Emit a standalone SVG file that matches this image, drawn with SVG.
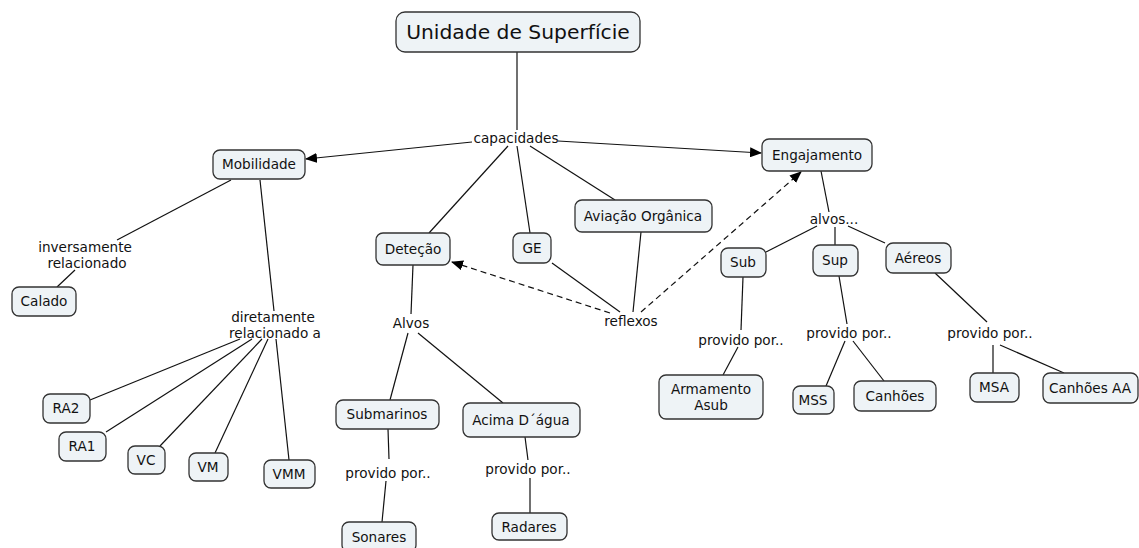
<svg xmlns="http://www.w3.org/2000/svg" width="1139" height="548" viewBox="0 0 1139 548">
<style>
.n rect{fill:#eef3f6;stroke:#333;stroke-width:1.3}
.n text,.l text{font-family:"DejaVu Sans",Verdana,sans-serif;font-size:13.6px;fill:#111;text-anchor:middle}
.c line{stroke:#111;stroke-width:1.2;fill:none}
.c .d{stroke-dasharray:6 4}
</style>
<defs>
<marker id="ah" viewBox="0 0 12 10" refX="11" refY="5" markerWidth="12" markerHeight="10" markerUnits="userSpaceOnUse" orient="auto">
<path d="M0,0 L12,5 L0,10 z" fill="#000"/>
</marker>
</defs>
<rect width="1139" height="548" fill="#fff"/>
<g class="c">
<line x1="517" y1="52" x2="517" y2="130"/>
<line x1="472" y1="142" x2="306" y2="159" marker-end="url(#ah)"/>
<line x1="558" y1="141" x2="761" y2="153" marker-end="url(#ah)"/>
<line x1="508" y1="146" x2="429" y2="233"/>
<line x1="517" y1="146" x2="530" y2="233"/>
<line x1="530" y1="146" x2="615" y2="200"/>
<line x1="552" y1="263" x2="620" y2="312"/>
<line x1="641" y1="232" x2="633" y2="312"/>
<line class="d" x1="610" y1="313" x2="452" y2="262" marker-end="url(#ah)"/>
<line class="d" x1="641" y1="312" x2="801" y2="172" marker-end="url(#ah)"/>
<line x1="821" y1="171" x2="829" y2="212"/>
<line x1="817" y1="226" x2="766" y2="252"/>
<line x1="835" y1="227" x2="835" y2="245"/>
<line x1="848" y1="226" x2="885" y2="243"/>
<line x1="743" y1="277" x2="741" y2="330"/>
<line x1="738" y1="347" x2="723" y2="375"/>
<line x1="839" y1="276" x2="847" y2="324"/>
<line x1="845" y1="341" x2="826" y2="386"/>
<line x1="853" y1="341" x2="884" y2="381"/>
<line x1="935" y1="273" x2="987" y2="322"/>
<line x1="993" y1="345" x2="993" y2="373"/>
<line x1="1000" y1="345" x2="1064" y2="373"/>
<line x1="231" y1="180" x2="117" y2="240"/>
<line x1="75" y1="270" x2="57" y2="287"/>
<line x1="260" y1="180" x2="274" y2="311"/>
<line x1="240" y1="339" x2="90" y2="400"/>
<line x1="252" y1="339" x2="106" y2="432"/>
<line x1="262" y1="339" x2="160" y2="446"/>
<line x1="268" y1="339" x2="215" y2="453"/>
<line x1="276" y1="339" x2="289" y2="460"/>
<line x1="413" y1="265" x2="411" y2="314"/>
<line x1="408" y1="333" x2="390" y2="400"/>
<line x1="418" y1="333" x2="503" y2="403"/>
<line x1="388" y1="429" x2="389" y2="459"/>
<line x1="386" y1="481" x2="382" y2="522"/>
<line x1="525" y1="437" x2="528" y2="460"/>
<line x1="530" y1="478" x2="530" y2="513"/>
</g>
<g class="l">
<text x="516" y="143">capacidades</text>
<text x="631" y="326">reflexos</text>
<text x="834" y="224">alvos...</text>
<text x="741" y="345">provido por..</text>
<text x="849" y="338">provido por..</text>
<text x="990" y="338">provido por..</text>
<text x="85" y="252">inversamente</text>
<text x="87" y="268">relacionado</text>
<text x="273" y="322">diretamente</text>
<text x="275" y="338">relacionado a</text>
<text x="411" y="328">Alvos</text>
<text x="388" y="478">provido por..</text>
<text x="528" y="474">provido por..</text>
</g>
<g id="n-title" class="n"><rect x="396" y="12" width="244" height="40" rx="9"/><text x="518" y="39" style="font-size:20.3px">Unidade de Superfície</text></g>
<g id="n-mobilidade" class="n"><rect x="213" y="150" width="92" height="29" rx="7"/><text x="259" y="169">Mobilidade</text></g>
<g id="n-engajamento" class="n"><rect x="762" y="139" width="110" height="32" rx="7"/><text x="817" y="160">Engajamento</text></g>
<g id="n-detecao" class="n"><rect x="376" y="233" width="74" height="32" rx="7"/><text x="413" y="254">Deteção</text></g>
<g id="n-ge" class="n"><rect x="513" y="233" width="38" height="30" rx="7"/><text x="532" y="253">GE</text></g>
<g id="n-aviacao" class="n"><rect x="575" y="200" width="137" height="32" rx="7"/><text x="643" y="221">Aviação Orgânica</text></g>
<g id="n-sub" class="n"><rect x="721" y="248" width="45" height="29" rx="7"/><text x="743" y="267">Sub</text></g>
<g id="n-sup" class="n"><rect x="813" y="245" width="45" height="31" rx="7"/><text x="835" y="265">Sup</text></g>
<g id="n-aereos" class="n"><rect x="886" y="243" width="65" height="30" rx="7"/><text x="918" y="263">Aéreos</text></g>
<g id="n-armamento" class="n"><rect x="659" y="375" width="104" height="44" rx="7"/><text x="711" y="394">Armamento</text><text x="711" y="410">Asub</text></g>
<g id="n-mss" class="n"><rect x="793" y="386" width="41" height="28" rx="7"/><text x="813" y="405">MSS</text></g>
<g id="n-canhoes" class="n"><rect x="854" y="381" width="82" height="30" rx="7"/><text x="895" y="401">Canhões</text></g>
<g id="n-msa" class="n"><rect x="970" y="373" width="49" height="29" rx="7"/><text x="994" y="392">MSA</text></g>
<g id="n-canhoesaa" class="n"><rect x="1043" y="373" width="95" height="30" rx="7"/><text x="1090" y="393">Canhões AA</text></g>
<g id="n-calado" class="n"><rect x="12" y="287" width="64" height="29" rx="7"/><text x="44" y="306">Calado</text></g>
<g id="n-ra2" class="n"><rect x="43" y="394" width="47" height="29" rx="7"/><text x="66" y="413">RA2</text></g>
<g id="n-ra1" class="n"><rect x="59" y="432" width="47" height="29" rx="7"/><text x="82" y="451">RA1</text></g>
<g id="n-vc" class="n"><rect x="128" y="446" width="37" height="28" rx="7"/><text x="146" y="465">VC</text></g>
<g id="n-vm" class="n"><rect x="189" y="453" width="39" height="28" rx="7"/><text x="208" y="472">VM</text></g>
<g id="n-vmm" class="n"><rect x="264" y="460" width="51" height="28" rx="7"/><text x="289" y="479">VMM</text></g>
<g id="n-submarinos" class="n"><rect x="336" y="400" width="103" height="29" rx="7"/><text x="387" y="419">Submarinos</text></g>
<g id="n-acima" class="n"><rect x="463" y="403" width="117" height="34" rx="7"/><text x="521" y="425">Acima D´água</text></g>
<g id="n-sonares" class="n"><rect x="342" y="522" width="74" height="30" rx="7"/><text x="379" y="542">Sonares</text></g>
<g id="n-radares" class="n"><rect x="492" y="513" width="75" height="27" rx="7"/><text x="529" y="532">Radares</text></g>
</svg>
